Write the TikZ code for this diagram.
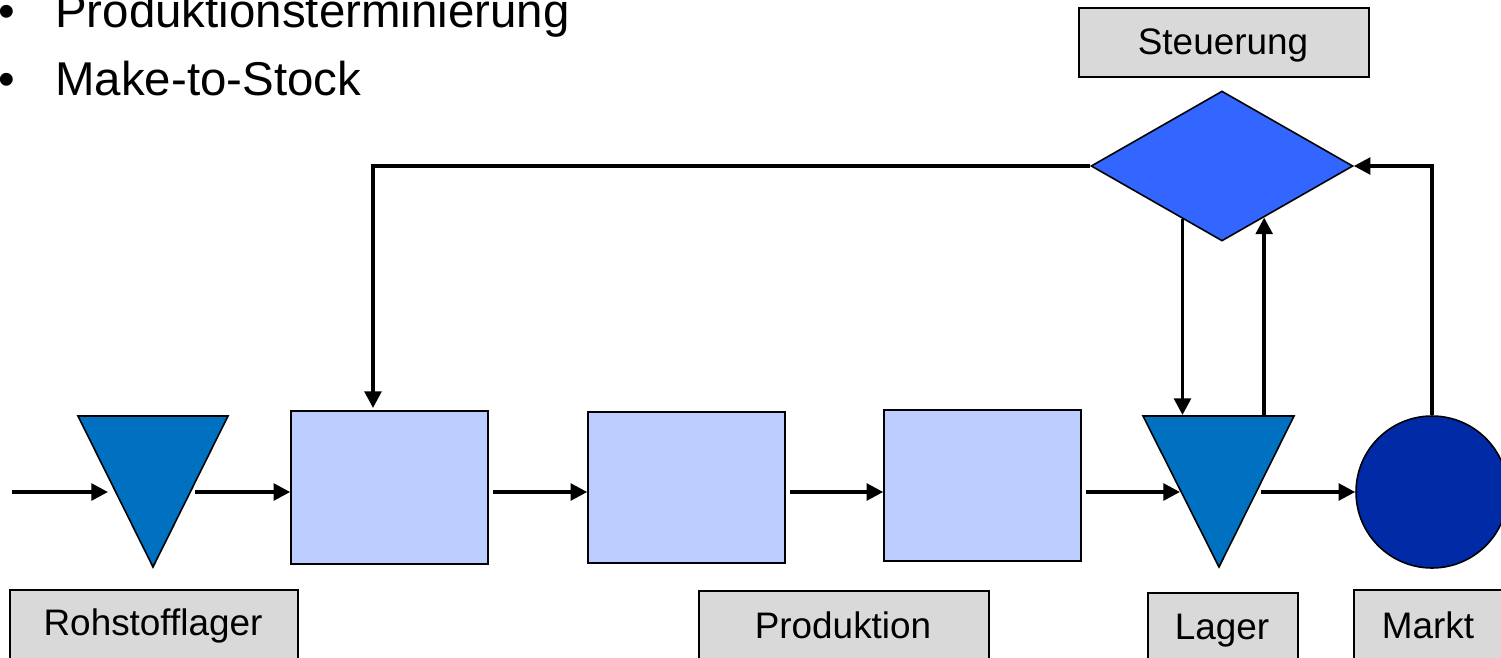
\documentclass[tikz,border=0pt]{standalone}
\usepackage{fontspec}
\setmainfont{Liberation Sans}
\usetikzlibrary{arrows.meta,calc,shapes.geometric}
\definecolor{trifill}{RGB}{0,112,192}
\definecolor{diafill}{RGB}{51,102,255}
\definecolor{procfill}{RGB}{187,204,255}
\definecolor{mktfill}{RGB}{0,42,166}
\definecolor{lblfill}{RGB}{217,217,217}
\begin{document}
\begin{tikzpicture}[x=0.02cm,y=-0.02cm,
  flow/.style={line width=2.1pt,-{Triangle[length=9.5pt,width=9.5pt]}},
  procbox/.style={draw,line width=0.9pt,fill=procfill,minimum width=3.94cm,inner sep=0pt},
  lblbox/.style={draw,line width=1pt,fill=lblfill,inner sep=0pt,anchor=north west},
  lbltext/.style={anchor=base,inner sep=0pt,font=\fontsize{21}{25}\selectfont},
  bullettext/.style={anchor=base west,inner sep=0pt,font=\fontsize{27}{32}\selectfont},
  shapeedge/.style={draw,line width=0.9pt}]
\useasboundingbox (0,0) rectangle (1501,657);
\clip (0,0) rectangle (1501,657);

% bullet list
\node[bullettext] (b1dot) at (-2,27) {•};
\node[bullettext] (b1txt) at (55,27) {Produktionsterminierung};
\node[bullettext] (b2dot) at (-2,95) {•};
\node[bullettext] (b2txt) at (55,95) {Make-to-Stock};

% label boxes
\node[lblbox,minimum width=5.8cm,minimum height=1.38cm] (stbox) at (1078,7) {};
\node[lbltext] (sttxt) at (1223,54) {Steuerung};
\node[lblbox,minimum width=5.76cm,minimum height=2cm] (rlbox) at (9,589) {};
\node[lbltext] (rltxt) at (153,635) {Rohstofflager};
\node[lblbox,minimum width=5.8cm,minimum height=2cm] (prbox) at (698,590) {};
\node[lbltext] (prtxt) at (843,638) {Produktion};
\node[lblbox,minimum width=3.0cm,minimum height=2cm] (lgbox) at (1147,592) {};
\node[lbltext] (lgtxt) at (1222,639) {Lager};
\node[lblbox,minimum width=3.0cm,minimum height=2cm] (mkbox) at (1353,589) {};
\node[lbltext] (mktxt) at (1428,638) {Markt};

% process boxes
\node[procbox,minimum height=3.06cm] (p1) at (389.5,487.5) {};
\node[procbox,minimum height=3.02cm] (p2) at (686.5,487.5) {};
\node[procbox,minimum height=3.02cm] (p3) at (982.5,485.5) {};

% triangles (stock)
\coordinate (t1a) at (78,416);
\coordinate (t1b) at (228,416);
\coordinate (t1c) at (153,567);
\filldraw[shapeedge,fill=trifill] (t1a) -- (t1b) -- (t1c) -- cycle;
\coordinate (t2a) at (1143,416);
\coordinate (t2b) at (1294,416);
\coordinate (t2c) at (1219,567);
\filldraw[shapeedge,fill=trifill] (t2a) -- (t2b) -- (t2c) -- cycle;

% market circle
\node[circle,shapeedge,fill=mktfill,minimum size=3.04cm,inner sep=0pt] (mk) at (1432,492) {};

% control diamond
\node[diamond,shapeedge,fill=diafill,minimum width=5.24cm,minimum height=3.0cm,inner sep=0pt] (dia) at (1222,166) {};

% connection points
\coordinate (row) at (0,492);
\coordinate (src) at (12,492);
\coordinate (t1in) at (108,492);
\coordinate (t1out) at (195,492);
\coordinate (t2in) at (1180,492);
\coordinate (t2out) at (1261,492);
\coordinate (dl) at ($(dia.west)!0.7!(dia.south)$);
\coordinate (dr) at ($(dia.east)!0.68!(dia.south)$);
\coordinate (t2top) at (1219,415);
\coordinate (p1fb) at (373,408);

% material flow
\draw[flow] (src) -- (t1in);
\draw[flow] (t1out) -- (p1.west |- row);
\draw[flow,shorten <=0.08cm] (p1.east |- row) -- (p2.west |- row);
\draw[flow,shorten <=0.08cm] (p2.east |- row) -- (p3.west |- row);
\draw[flow,shorten <=0.08cm] (p3.east |- row) -- (t2in);
\draw[flow] (t2out) -- (mk.west);

% information flow
\draw[flow] (dia.west) -| (p1fb);
\draw[flow] (mk.north) |- (dia.east);
\draw[flow] (dl) -- (dl |- t2top);
\draw[flow] (dr |- t2top) -- (dr);
\end{tikzpicture}
\end{document}
